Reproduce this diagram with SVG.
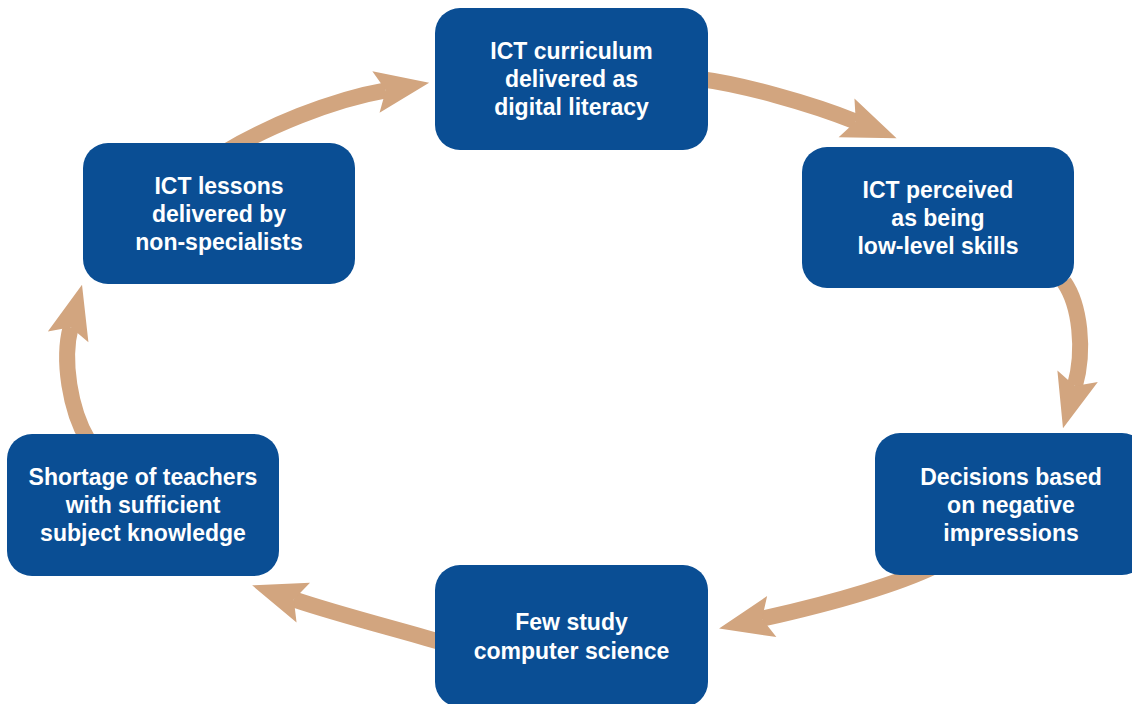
<svg xmlns="http://www.w3.org/2000/svg" width="1132" height="704" viewBox="0 0 1132 704">
<defs>
<style>
.node rect{fill:#0a4e94;}
.node text{fill:#ffffff;font-family:"Liberation Sans",Arial,sans-serif;font-weight:bold;font-size:23px;text-anchor:middle;}
.conn path{fill:none;stroke:#d2a57f;stroke-width:16;marker-end:url(#head);}
</style>
<marker id="head" markerUnits="userSpaceOnUse" orient="auto" markerWidth="60" markerHeight="50" refX="0" refY="0" viewBox="-12 -25 60 50" overflow="visible">
<path d="M44,0 L-10,-21 L0,0 L-10,21 Z" fill="#d2a57f"/>
</marker>
</defs>
<rect width="1132" height="704" fill="#ffffff"/>
<g id="connectors" class="conn">
<path d="M225,152 C265,128 330,100 385.8,90.3"/>
<path d="M700,79 C740,84 810,103 855.8,121.6"/>
<path d="M1064,282 C1080,305 1085,350 1074.9,385.9"/>
<path d="M935,566 C885,590 810,608 762,618.8"/>
<path d="M440,642 C400,630 340,615 293.8,599.4"/>
<path d="M88,440 C70,410 62,360 70.7,327.3"/>
</g>
<g id="n1" class="node">
<rect x="435" y="8" width="273" height="142" rx="25"/>
<text x="571.5" y="59">ICT curriculum</text>
<text x="571.5" y="87">delivered as</text>
<text x="571.5" y="115">digital literacy</text>
</g>
<g id="n2" class="node">
<rect x="802" y="147" width="272" height="141" rx="25"/>
<text x="938" y="198">ICT perceived</text>
<text x="938" y="226">as being</text>
<text x="938" y="254">low-level skills</text>
</g>
<g id="n3" class="node">
<rect x="875" y="433" width="272" height="142" rx="25"/>
<text x="1011" y="485">Decisions based</text>
<text x="1011" y="513">on negative</text>
<text x="1011" y="541">impressions</text>
</g>
<g id="n4" class="node">
<rect x="435" y="565" width="273" height="142" rx="25"/>
<text x="571.5" y="630">Few study</text>
<text x="571.5" y="659">computer science</text>
</g>
<g id="n5" class="node">
<rect x="7" y="434" width="272" height="142" rx="25"/>
<text x="143" y="485">Shortage of teachers</text>
<text x="143" y="513">with sufficient</text>
<text x="143" y="541">subject knowledge</text>
</g>
<g id="n6" class="node">
<rect x="83" y="143" width="272" height="141" rx="25"/>
<text x="219" y="194">ICT lessons</text>
<text x="219" y="222">delivered by</text>
<text x="219" y="250">non-specialists</text>
</g>
</svg>
